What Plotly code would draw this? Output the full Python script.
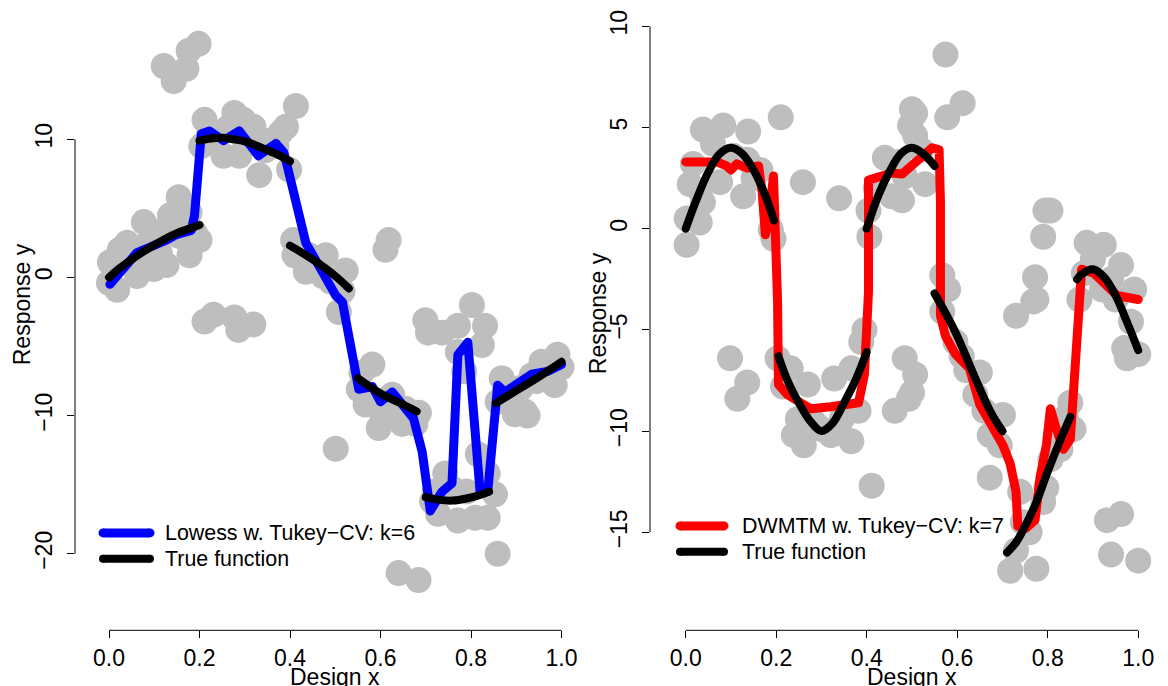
import plotly.graph_objects as go

W, H = 1168, 686

# ---------------- data: left panel (Lowess) ----------------
left_pts_x = [0.0, 0.018, 0.002, 0.024, 0.04, 0.062, 0.077, 0.09, 0.099, 0.112, 0.127,
              0.05, 0.03, 0.11, 0.135, 0.165, 0.19, 0.07, 0.085,
              0.121, 0.143, 0.171, 0.176, 0.198,
              0.154, 0.156, 0.178, 0.178, 0.2,
              0.204, 0.211, 0.222, 0.231, 0.253, 0.262, 0.277, 0.288, 0.297, 0.3, 0.319, 0.332,
              0.345, 0.356, 0.37, 0.38, 0.391, 0.398, 0.413,
              0.211, 0.231, 0.277, 0.286, 0.319,
              0.407, 0.41, 0.442, 0.435, 0.46, 0.473, 0.479, 0.49, 0.508, 0.516, 0.523, 0.501,
              0.611, 0.618,
              0.552, 0.558, 0.567, 0.575, 0.582, 0.596, 0.604, 0.615, 0.626, 0.64, 0.648, 0.655,
              0.677, 0.685, 0.64, 0.684,
              0.699, 0.705, 0.736, 0.771, 0.771, 0.785, 0.802, 0.824, 0.831,
              0.714, 0.72, 0.727, 0.743, 0.756, 0.771, 0.79, 0.809, 0.815, 0.837, 0.837, 0.853, 0.859,
              0.859, 0.868, 0.875, 0.89, 0.897, 0.91, 0.919, 0.925, 0.934, 0.945, 0.956, 0.97,
              0.985, 0.991, 1.0]
left_pts_y = [-0.4, -0.9, 1.1, 2.0, 2.5, 0.1, 4.0, 2.7, 0.6, 1.8, 0.9,
              1.0, 1.5, 3.3, 4.5, 3.5, 3.2, 2.0, 1.2,
              15.3, 14.2, 15.1, 16.4, 16.9,
              5.8, 3.0, 4.7, 1.6, 2.7,
              9.5, 11.4, 10.5, 10.4, 8.8, 10.8, 11.9, 8.8, 11.4, 10.0, 10.9, 7.4,
              9.2, 9.9, 9.5, 10.5, 10.9, 7.8, 12.4,
              -3.2, -2.7, -2.9, -3.8, -3.4,
              2.7, 1.6, 1.6, 0.4, 1.0, 0.1, 1.6, -0.3, -2.5, -1.0, 0.5, -12.4,
              2.0, 2.7,
              -8.1, -6.9, -9.2, -8.8, -6.3, -10.9, -9.9, -8.8, -8.5, -9.4, -10.6, -9.5,
              -10.6, -9.8, -21.4, -21.9,
              -3.1, -4.0, -4.0, -3.5, -5.4, -6.8, -2.0, -4.9, -3.5,
              -16.2, -15.5, -17.1, -14.2, -15.2, -17.6, -15.5, -17.4, -12.8, -14.2, -17.4, -15.7, -20.0,
              -9.0, -7.3, -8.0, -8.5, -9.9, -8.0, -9.7, -10.0, -7.1, -7.5, -6.1, -6.5,
              -7.8, -5.6, -6.5]

lowess_x = [0.002, 0.062, 0.127, 0.149, 0.182, 0.189, 0.204, 0.222, 0.253, 0.288, 0.33,
            0.369, 0.387, 0.435, 0.501, 0.516, 0.552, 0.582, 0.6, 0.626, 0.673, 0.692,
            0.71, 0.736, 0.758, 0.771, 0.793, 0.82, 0.837, 0.859, 0.875, 0.934, 0.969, 1.0]
lowess_y = [-0.5, 1.8, 2.7, 3.1, 3.4, 4.5, 10.4, 10.6, 9.9, 10.6, 8.8,
            9.7, 9.0, 2.5, -1.3, -1.8, -8.1, -7.9, -9.0, -8.3, -10.2, -12.6,
            -16.9, -15.5, -14.9, -5.6, -4.7, -15.5, -15.5, -7.8, -8.3, -7.0, -6.8, -6.3]

true_left_x = [0, 0.025, 0.05, 0.075, 0.1, 0.125, 0.15, 0.175, 0.2, None,
               0.2, 0.225, 0.25, 0.275, 0.3, 0.325, 0.35, 0.375, 0.4, None,
               0.4, 0.45, 0.5, 0.53, None,
               0.55, 0.6, 0.65, 0.68, None,
               0.7, 0.73, 0.76, 0.79, 0.82, 0.84, None,
               0.855, 0.9, 0.95, 1.0]
true_left_y = [0, 0.7, 1.3, 1.85, 2.35, 2.8, 3.2, 3.5, 3.8, None,
               9.9, 10.05, 10.1, 10.0, 9.85, 9.55, 9.2, 8.85, 8.4, None,
               2.3, 1.3, 0.1, -0.8, None,
               -7.3, -8.4, -9.2, -9.7, None,
               -15.9, -16.1, -16.15, -16.0, -15.75, -15.5, None,
               -9.1, -8.2, -7.2, -6.1]

# ---------------- data: right panel (DWMTM) ----------------
right_pts_x = [0.002, 0.002, 0.031, 0.009, 0.016, 0.031, 0.038, 0.038, 0.06, 0.076, 0.083,
               0.105, 0.127, 0.136, 0.138, 0.15, 0.165, 0.188, 0.194, 0.21, 0.259, 0.339,
               0.098, 0.136, 0.114,
               0.203, 0.215, 0.232, 0.27, 0.248, 0.239, 0.261, 0.285, 0.3, 0.321, 0.345, 0.366,
               0.328, 0.366, 0.395, 0.388, 0.382, 0.411,
               0.404, 0.406, 0.42, 0.44, 0.455, 0.47, 0.478, 0.484, 0.496, 0.5, 0.507, 0.507,
               0.52, 0.529, 0.574, 0.612, 0.578,
               0.484, 0.462, 0.5, 0.493, 0.507,
               0.567, 0.567, 0.58, 0.596, 0.61, 0.62, 0.65, 0.64, 0.66, 0.701, 0.672, 0.694, 0.672,
               0.73, 0.775, 0.768, 0.772, 0.79, 0.806, 0.795,
               0.739, 0.745, 0.76, 0.79, 0.797, 0.806, 0.82, 0.828, 0.84, 0.85, 0.857,
               0.717, 0.775, 0.73,
               0.87, 0.88, 0.886, 0.9, 0.92, 0.924, 0.94, 0.95, 0.962, 0.969, 0.975, 0.984,
               0.991, 1.0,
               0.931, 0.962, 0.94, 1.0]
right_pts_y = [-0.8, 0.5, 0.3, 2.2, 3.2, 1.9, 1.3, 4.9, 4.2, 2.3, 5.1,
               3.6, 1.6, 3.4, 4.8, 2.5, 2.9, -0.05, -0.5, 5.5, 2.3, 1.5,
               -6.4, -7.6, -8.4,
               -6.4, -7.8, -6.9, -7.7, -9.4, -10.2, -10.7, -9.6, -9.9, -10.2, -9.4, -10.5,
               -7.4, -6.9, -5.0, -5.6, -9.0, -12.7,
               0.9, -0.4, 2.0, 3.5, 1.6, 3.3, 1.4, 2.6, 5.1, 5.9, 5.7, 4.6,
               3.9, 2.2, 8.6, 6.2, 5.5,
               -6.4, -9.0, -8.1, -8.4, -7.2,
               -2.3, -4.1, -3.0, -5.6, -6.3, -7.0, -7.1, -8.2, -9.0, -9.2, -10.2, -10.7, -12.3,
               -4.3, -3.5, -3.6, -2.4, -0.4, 0.9, 0.9,
               -13.0, -14.5, -15.0, -13.5, -12.8, -11.4, -10.0, -10.9, -9.3, -8.6, -9.9,
               -16.9, -16.8, -15.9,
               -3.5, -2.2, -0.7, -1.5, -3.0, -0.8, -2.5, -3.5, -1.8, -5.9, -6.4, -4.6,
               -3.0, -6.2,
               -14.4, -14.1, -16.1, -16.4]

dwmtm_x = [0.0, 0.069, 0.09, 0.1, 0.113, 0.136, 0.161, 0.169, 0.176, 0.183, 0.194, 0.199,
           0.203, 0.205, 0.225, 0.254, 0.277, 0.321, 0.382, 0.395, 0.404, 0.404, 0.433,
           0.455, 0.478, 0.5, 0.522, 0.545, 0.56, 0.563, 0.563, 0.574, 0.596, 0.627, 0.65,
           0.679, 0.701, 0.717, 0.73, 0.734, 0.752, 0.772, 0.783, 0.797, 0.806, 0.819,
           0.835, 0.85, 0.857, 0.864, 0.875, 0.902, 0.924, 0.953, 1.0]
dwmtm_y = [3.3, 3.3, 3.1, 2.9, 3.2, 3.0, 3.1, 1.8, -0.3, 0.4, 2.6, -0.3,
           -3.6, -7.7, -8.2, -8.6, -8.9, -8.8, -8.6, -7.2, -3.1, 2.4, 2.6,
           2.75, 2.7, 3.1, 3.6, 4.0, 3.9, 1.3, -4.3, -5.3, -6.2, -6.9, -8.7,
           -9.9, -10.7, -11.6, -13.0, -14.7, -14.8, -14.4, -12.3, -10.7, -8.9, -9.9,
           -10.9, -10.4, -8.1, -4.8, -2.0, -2.2, -2.7, -3.3, -3.5]

true_right_x = [0, 0.025, 0.05, 0.075, 0.1, 0.125, 0.15, 0.175, 0.195, None,
                0.205, 0.225, 0.25, 0.275, 0.3, 0.325, 0.35, 0.375, 0.4, None,
                0.4, 0.425, 0.45, 0.475, 0.5, 0.525, 0.55, None,
                0.55, 0.575, 0.6, 0.625, 0.65, 0.675, 0.7, None,
                0.71, 0.73, 0.75, 0.775, 0.8, 0.825, 0.85, None,
                0.865, 0.875, 0.9, 0.925, 0.95, 0.975, 1.0]
true_right_y = [0, 1.5, 2.8, 3.7, 4.0, 3.7, 2.9, 1.7, 0.4, None,
                -6.3, -7.5, -8.6, -9.5, -10.0, -9.6, -8.6, -7.5, -6.1, None,
                0, 1.6, 2.8, 3.7, 4.0, 3.7, 3.1, None,
                -3.2, -4.2, -5.3, -6.6, -7.9, -9.1, -10.0, None,
                -16.0, -15.5, -14.7, -13.5, -12.0, -10.6, -9.3, None,
                -2.5, -2.25, -2.0, -2.4, -3.3, -4.6, -6.0]

x_ticks = [0.0, 0.2, 0.4, 0.6, 0.8, 1.0]
left_y_ticks = [-20, -10, 0, 10]
right_y_ticks = [-15, -10, -5, 0, 5, 10]

legend_left = ["Lowess w. Tukey\u2212CV: k=6", "True function"]
legend_right = ["DWMTM w. Tukey\u2212CV: k=7", "True function"]

GRAY = "#BEBEBE"
FONT = "Liberation Sans, Arial, Helvetica, sans-serif"


def px(xp):
    return xp / W


def py(yp):
    return 1 - yp / H


fig = go.Figure()

# left panel traces
fig.add_trace(go.Scatter(x=left_pts_x, y=left_pts_y, mode="markers",
                         marker=dict(size=26, color=GRAY, line=dict(width=0)),
                         xaxis="x", yaxis="y", showlegend=False))
fig.add_trace(go.Scatter(x=lowess_x, y=lowess_y, mode="lines",
                         line=dict(color="#0000FF", width=9),
                         xaxis="x", yaxis="y", showlegend=False))
fig.add_trace(go.Scatter(x=true_left_x, y=true_left_y, mode="lines",
                         line=dict(color="black", width=8, shape="spline"),
                         connectgaps=False, xaxis="x", yaxis="y", showlegend=False))

# right panel traces
fig.add_trace(go.Scatter(x=right_pts_x, y=right_pts_y, mode="markers",
                         marker=dict(size=26, color=GRAY, line=dict(width=0)),
                         xaxis="x2", yaxis="y2", showlegend=False))
fig.add_trace(go.Scatter(x=dwmtm_x, y=dwmtm_y, mode="lines",
                         line=dict(color="#FF0000", width=9),
                         xaxis="x2", yaxis="y2", showlegend=False))
fig.add_trace(go.Scatter(x=true_right_x, y=true_right_y, mode="lines",
                         line=dict(color="black", width=8, shape="spline"),
                         connectgaps=False, xaxis="x2", yaxis="y2", showlegend=False))

# panel geometry (pixels)
L_left, L_right, top, bottom = 75, 585, 10, 630
R_left, R_right = 650, 1160
lx0, lsx, ly0, lsy = 109, 452.5, 275, 13.9
rx0, rsx, ry0, rsy = 685.7, 452.5, 226, 20.36

axis_common = dict(showgrid=False, zeroline=False, showline=False,
                   ticks="outside", ticklen=7, tickwidth=1, tickcolor="black",
                   tickfont=dict(family=FONT, size=23, color="black"))

fig.update_layout(
    width=W, height=H, margin=dict(l=0, r=0, t=0, b=0),
    paper_bgcolor="white", plot_bgcolor="white", showlegend=False,
    xaxis=dict(domain=[px(L_left), px(L_right)],
               range=[(L_left - lx0) / lsx, (L_right - lx0) / lsx],
               tickvals=x_ticks, tickformat=".1f", anchor="y", **axis_common),
    yaxis=dict(domain=[py(bottom), py(top)],
               range=[(ly0 - bottom) / lsy, (ly0 - top) / lsy],
               tickvals=left_y_ticks, tickangle=-90, anchor="x",
               ticklabelstandoff=6, **axis_common),
    xaxis2=dict(domain=[px(R_left), px(R_right)],
                range=[(R_left - rx0) / rsx, (R_right - rx0) / rsx],
                tickvals=x_ticks, tickformat=".1f", anchor="y2", **axis_common),
    yaxis2=dict(domain=[py(bottom), py(top)],
                range=[(ry0 - bottom) / rsy, (ry0 - top) / rsy],
                tickvals=right_y_ticks, tickangle=-90, anchor="x2",
                ticklabelstandoff=6, **axis_common),
)

shapes = []
ax_line = dict(color="black", width=1)
shapes.append(dict(type="line", xref="x domain", yref="y", x0=0, x1=0,
                   y0=min(left_y_ticks), y1=max(left_y_ticks), line=ax_line))
shapes.append(dict(type="line", xref="x", yref="y domain", x0=min(x_ticks), x1=max(x_ticks),
                   y0=0, y1=0, line=ax_line))
shapes.append(dict(type="line", xref="x2 domain", yref="y2", x0=0, x1=0,
                   y0=min(right_y_ticks), y1=max(right_y_ticks), line=ax_line))
shapes.append(dict(type="line", xref="x2", yref="y2 domain", x0=min(x_ticks), x1=max(x_ticks),
                   y0=0, y1=0, line=ax_line))


def legend_sample(x1, x2, yp, color, width):
    shapes.append(dict(type="line", xref="paper", yref="paper",
                       x0=px(x1), x1=px(x2), y0=py(yp), y1=py(yp),
                       line=dict(color=color, width=width)))
    r = width / 2
    for xc in (x1, x2):
        shapes.append(dict(type="circle", xref="paper", yref="paper",
                           x0=px(xc - r), x1=px(xc + r), y0=py(yp + r), y1=py(yp - r),
                           fillcolor=color, line=dict(width=0)))


legend_sample(103, 150, 532, "#0000FF", 9)
legend_sample(103, 150, 558, "black", 8)
legend_sample(680, 724, 525, "#FF0000", 9)
legend_sample(680, 724, 551, "black", 8)

fig.update_layout(shapes=shapes)

ann = []
txt_font = dict(family=FONT, size=21.4, color="black")
for text, yp in zip(legend_left, (532, 558)):
    ann.append(dict(text=text, xref="paper", yref="paper", x=px(163), y=py(yp),
                    xanchor="left", yanchor="middle", showarrow=False, font=txt_font))
for text, yp in zip(legend_right, (525, 551)):
    ann.append(dict(text=text, xref="paper", yref="paper", x=px(740), y=py(yp),
                    xanchor="left", yanchor="middle", showarrow=False, font=txt_font))

title_font = dict(family=FONT, size=23, color="black")
ann.append(dict(text="Design x", xref="x", yref="paper", x=0.5, y=py(677),
                xanchor="center", yanchor="middle", showarrow=False, font=title_font))
ann.append(dict(text="Design x", xref="x2", yref="paper", x=0.5, y=py(677),
                xanchor="center", yanchor="middle", showarrow=False, font=title_font))
ann.append(dict(text="Response y", xref="paper", yref="paper", x=px(22), y=py(302),
                xanchor="center", yanchor="middle", textangle=-90, showarrow=False,
                font=title_font))
ann.append(dict(text="Response y", xref="paper", yref="paper", x=px(598), y=py(311),
                xanchor="center", yanchor="middle", textangle=-90, showarrow=False,
                font=title_font))
fig.update_layout(annotations=ann)

round_js = """
var gd = document.getElementById('{plot_id}');
function roundLines(){
  gd.querySelectorAll('.scatterlayer .js-line').forEach(function(p){
    p.style.strokeLinejoin = 'round';
    p.style.strokeLinecap = 'round';
  });
}
roundLines();
gd.on('plotly_afterplot', roundLines);
"""

fig.write_html("out.html", post_script=round_js)
